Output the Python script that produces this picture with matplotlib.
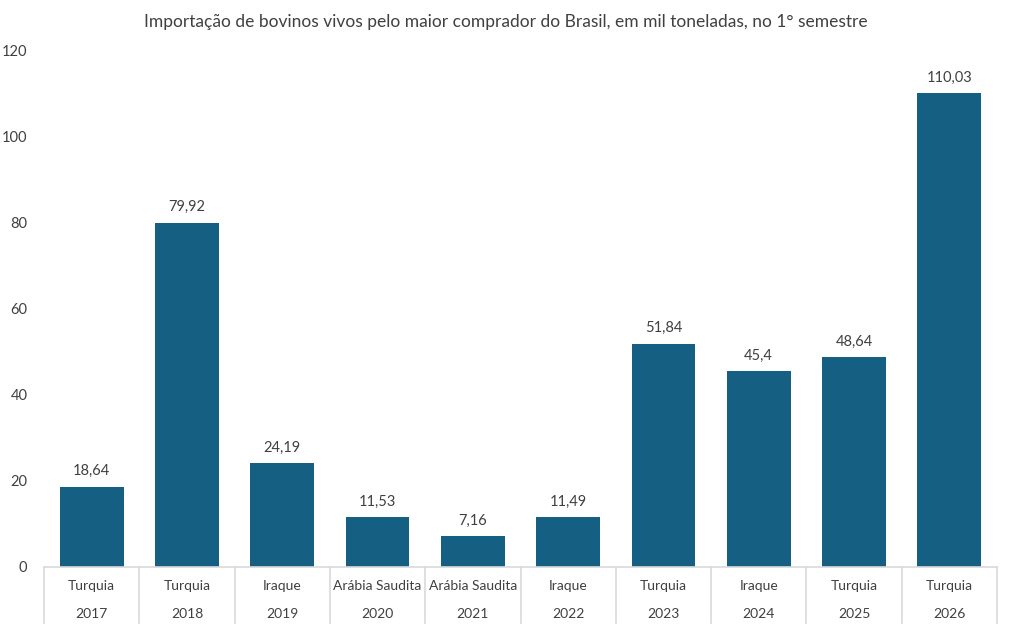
import matplotlib
matplotlib.use("Agg")
import matplotlib.pyplot as plt
from matplotlib.transforms import blended_transform_factory

years = ["2017", "2018", "2019", "2020", "2021", "2022", "2023", "2024", "2025", "2026"]
countries = ["Turquia", "Turquia", "Iraque", "Arábia Saudita", "Arábia Saudita",
             "Iraque", "Turquia", "Iraque", "Turquia", "Turquia"]
values = [18.64, 79.92, 24.19, 11.53, 7.16, 11.49, 51.84, 45.4, 48.64, 110.03]
labels = ["18,64", "79,92", "24,19", "11,53", "7,16", "11,49", "51,84", "45,4", "48,64", "110,03"]

plt.rcParams['font.family'] = ['Lato', 'DejaVu Sans']
text_color = "#404040"
grid_color = "#D9D9D9"

fig = plt.figure(figsize=(10.12, 6.30), dpi=100)
ax = fig.add_axes([44/1012, 1-567/630, (997-44)/1012, (567-50)/630])

x = list(range(len(values)))
ax.bar(x, values, width=0.67, color="#156082", zorder=2)
ax.set_xlim(-0.5, len(values)-0.5)
ax.set_ylim(0, 120)
ax.set_yticks(range(0, 121, 20))
ax.tick_params(axis='y', length=0, pad=12, labelsize=10.5, labelcolor=text_color)
ax.tick_params(axis='x', length=0, labelbottom=False)
for s in ["left", "right", "top"]:
    ax.spines[s].set_visible(False)
ax.spines["bottom"].set_color(grid_color)
ax.spines["bottom"].set_linewidth(1.2)

for xi, v, lab in zip(x, values, labels):
    ax.annotate(lab, (xi, v), xytext=(0, 6), textcoords="offset points",
                ha="center", va="bottom", fontsize=10.5, color=text_color)

trans = blended_transform_factory(ax.transData, ax.transAxes)
px = 1/517
for i in range(len(values)+1):
    ax.plot([i-0.5, i-0.5], [0, -56*px], transform=trans, color=grid_color,
            lw=1.2, clip_on=False)
for xi, c, yr in zip(x, countries, years):
    ax.text(xi, -19*px, c, transform=trans, ha="center", va="center",
            fontsize=10, color=text_color)
    ax.text(xi, -47*px, yr, transform=trans, ha="center", va="center",
            fontsize=10, color=text_color)

fig.text(506/1012, 1-22/630,
         "Importação de bovinos vivos pelo maior comprador do Brasil, em mil toneladas, no 1° semestre",
         ha="center", va="center", fontsize=12.5, color=text_color)

fig.savefig("out.png", dpi=100)
